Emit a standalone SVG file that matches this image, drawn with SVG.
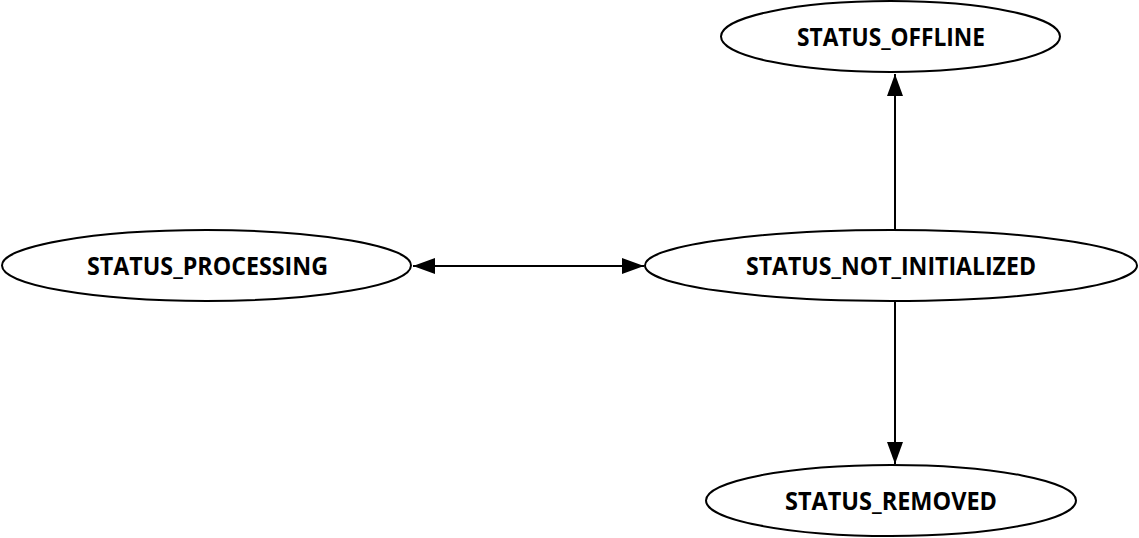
<svg xmlns="http://www.w3.org/2000/svg" width="1139" height="538" viewBox="0 0 1139 538">
  <style>
    .node ellipse { fill: #ffffff; stroke: #000000; stroke-width: 2; }
    .node text { font-family: "Open Sans", "Noto Sans", "DejaVu Sans", sans-serif; font-weight: bold; font-size: 25px; fill: #000000; text-anchor: middle; }
    .edge { stroke: #000000; stroke-width: 2; fill: none; }
  </style>
  <defs>
    <marker id="arrow" viewBox="0 0 22 16" refX="22" refY="8" markerWidth="22" markerHeight="16" markerUnits="userSpaceOnUse" orient="auto-start-reverse">
      <path d="M0,0 L22,8 L0,16 Z" fill="#000000"/>
    </marker>
  </defs>

  <rect width="1139" height="538" fill="#ffffff"/>

  <g id="connectors">
    <line class="edge" x1="413" y1="266" x2="644" y2="266" marker-start="url(#arrow)" marker-end="url(#arrow)"/>
    <line class="edge" x1="895" y1="229" x2="895" y2="74" marker-end="url(#arrow)"/>
    <line class="edge" x1="895" y1="302" x2="895" y2="464" marker-end="url(#arrow)"/>
  </g>

  <g id="status_processing" class="node">
    <ellipse cx="206.5" cy="265.5" rx="204.5" ry="35.5"/>
    <text x="207.5" y="274.5" textLength="241" lengthAdjust="spacingAndGlyphs">STATUS_PROCESSING</text>
  </g>

  <g id="status_not_initialized" class="node">
    <ellipse cx="891" cy="265.5" rx="246" ry="35.5"/>
    <text x="891" y="274.5" textLength="290" lengthAdjust="spacingAndGlyphs">STATUS_NOT_INITIALIZED</text>
  </g>

  <g id="status_offline" class="node">
    <ellipse cx="890.5" cy="36.5" rx="169.5" ry="35.5"/>
    <text x="891" y="45.5" textLength="188" lengthAdjust="spacingAndGlyphs">STATUS_OFFLINE</text>
  </g>

  <g id="status_removed" class="node">
    <ellipse cx="891" cy="500.5" rx="185" ry="35.5"/>
    <text x="891" y="509.5" textLength="212" lengthAdjust="spacingAndGlyphs">STATUS_REMOVED</text>
  </g>
</svg>
